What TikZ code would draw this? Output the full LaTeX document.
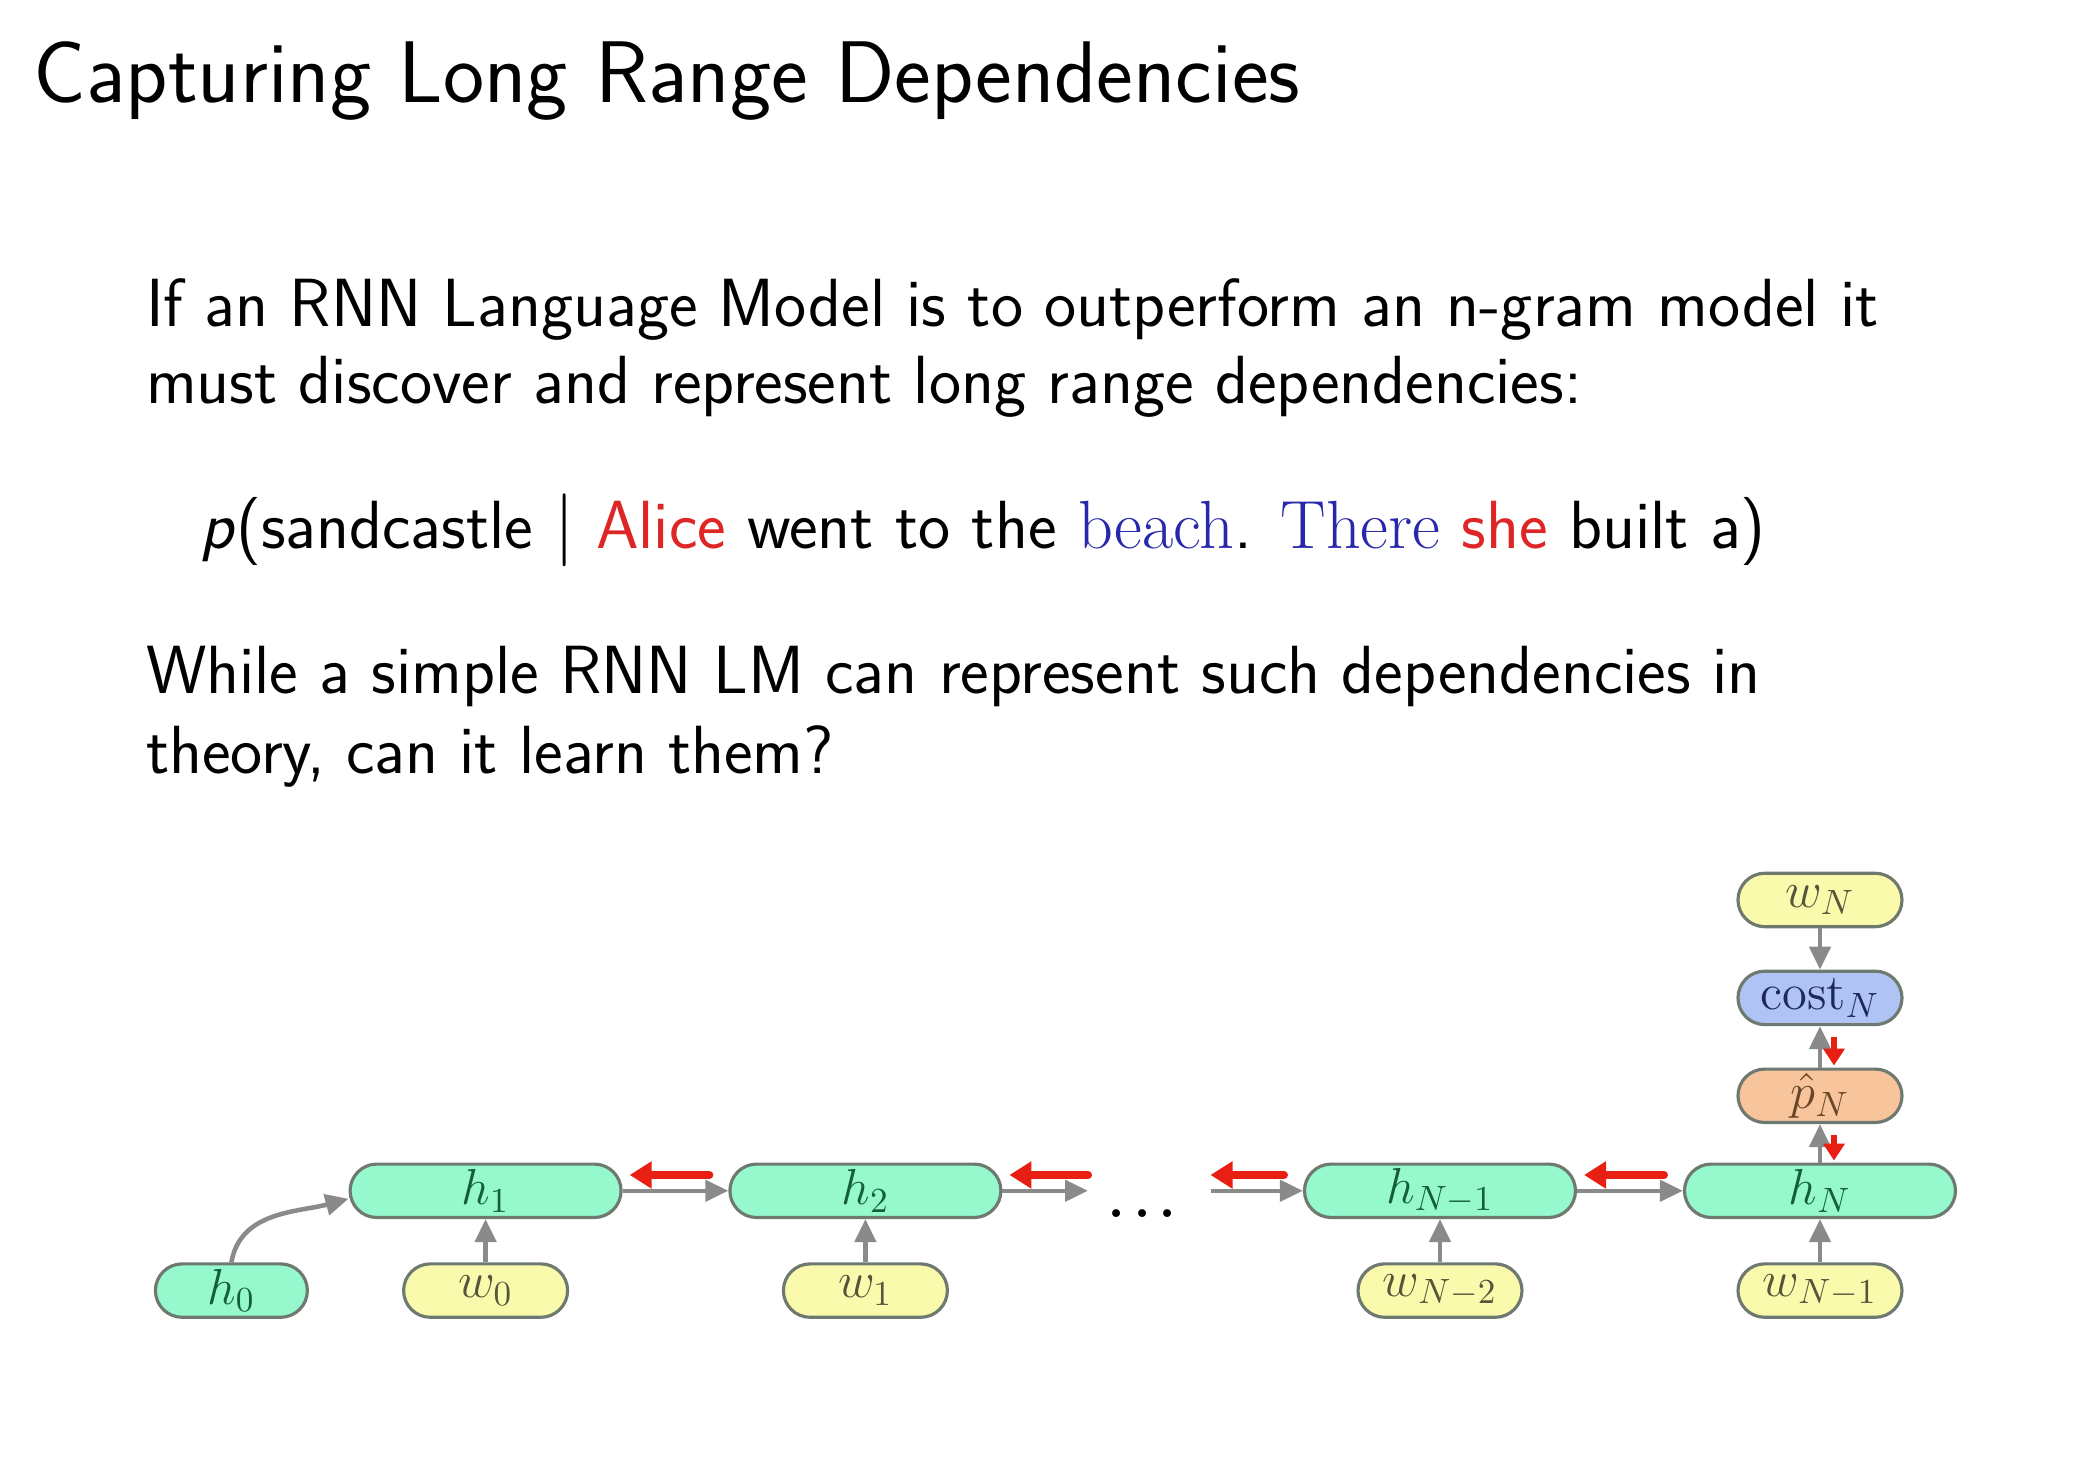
\documentclass[tikz,border=0pt]{standalone}
\usepackage{amsmath,amssymb}
\usepackage{tikz}
\usetikzlibrary{arrows.meta}
\definecolor{hidgreen}{RGB}{150,248,205}
\definecolor{hidtext}{RGB}{20,95,58}
\definecolor{wordyellow}{RGB}{250,250,172}
\definecolor{wordtext}{RGB}{85,85,60}
\definecolor{costblue}{RGB}{175,196,245}
\definecolor{costtext}{RGB}{30,40,90}
\definecolor{porange}{RGB}{248,196,156}
\definecolor{ptext}{RGB}{105,70,40}
\definecolor{cellborder}{RGB}{110,122,112}
\definecolor{arrowgray}{RGB}{138,138,138}
\definecolor{gradred}{RGB}{232,32,20}
\definecolor{alicered}{RGB}{222,38,38}
\definecolor{beachblue}{RGB}{40,40,170}
\tikzset{
  cell/.style={draw=cellborder, line width=0.9pt, rounded corners=0.267cm,
    minimum height=0.534cm, inner sep=0pt, font=\fontsize{14}{16}\selectfont},
  hcell/.style={cell, fill=hidgreen, text=hidtext, minimum width=2.71cm},
  wcell/.style={cell, fill=wordyellow, text=wordtext, minimum width=1.64cm},
  fw/.style={draw=arrowgray, line width=1.3pt, -{Triangle[length=2.3mm,width=2.1mm]}},
  bw/.style={draw=gradred, line width=2.3pt, line cap=round,
    -{Triangle[length=2.2mm,width=2.6mm]}, shorten <=0.19cm, shorten >=0.07cm},
  bwv/.style={draw=gradred, line width=1.6pt,
    -{Triangle[length=1.7mm,width=2.1mm]}, shorten <=0.11cm, shorten >=0.02cm},
  txt/.style={anchor=base west, inner sep=0pt, font=\sffamily\fontsize{19.4}{23}\selectfont}
}
% red gradient arrow, drawn above the forward one
\def\BW#1#2{\draw[bw] ([yshift=0.158cm]#1) -- ([yshift=0.158cm]#2);}
\begin{document}
\begin{tikzpicture}
  \useasboundingbox (0,0) rectangle (20.74,-14.82);
  \fill[white] (0,0) rectangle (20.74,-14.82);
  % slide text
  \node[txt, font=\sffamily\fontsize{24.9}{29}\selectfont] (title) at (0.33,-1.03) {Capturing Long Range Dependencies};
  \node[txt] (para1a) at (1.454,-3.264) {If an RNN Language Model is to outperform an n-gram model it};
  \node[txt] (para1b) at (1.454,-4.035) {must discover and represent long range dependencies:};
  \node[txt] (query) at (2.0,-5.49) {\textit{p}(sandcastle $\mid$ \textcolor{alicered}{Alice} went to the
    \textcolor{beachblue}{\rmfamily beach}. \textcolor{beachblue}{\rmfamily There} \textcolor{alicered}{she} built a)};
  \node[txt] (para2a) at (1.454,-6.94) {While a simple RNN LM can represent such dependencies in};
  \node[txt] (para2b) at (1.454,-7.74) {theory, can it learn them?};
  % the unrolled network
  \node[hcell, minimum width=1.52cm] (h0) at (2.314,-12.906) {$h_0$};
  \node[wcell] (w0) at (4.856,-12.906) {$w_0$};
  \node[wcell] (w1) at (8.654,-12.906) {$w_1$};
  \node[wcell] (wN2) at (14.40,-12.906) {$w_{N-2}$};
  \node[wcell] (wN1) at (18.20,-12.906) {$w_{N-1}$};
  \node[hcell] (h1) at (4.856,-11.908) {$h_1$};
  \node[hcell] (h2) at (8.654,-11.908) {$h_2$};
  \node[hcell] (hN1) at (14.40,-11.908) {$h_{N-1}$};
  \node[hcell] (hN) at (18.20,-11.908) {$h_N$};
  \node[cell, fill=porange, text=ptext, minimum width=1.64cm] (pN) at (18.20,-10.958) {$\hat{p}_N$};
  \node[cell, fill=costblue, text=costtext, minimum width=1.64cm] (costN) at (18.20,-9.979) {$\mathrm{cost}_N$};
  \node[wcell] (wN) at (18.20,-9.000) {$w_N$};
  \node[anchor=base, font=\boldmath\fontsize{15}{16}\selectfont] (dots) at (11.47,-12.175) {$\dots$};
  \coordinate (gapA) at (10.88,-11.908);
  \coordinate (gapB) at (12.105,-11.908);
  % forward
  \draw[fw] (h0.north) to[out=80,in=195] ([yshift=-0.08cm]h1.west);
  \foreach \a/\b in {w0/h1,w1/h2,wN2/hN1,wN1/hN,hN/pN,pN/costN,wN/costN}
    \draw[fw] (\a) -- (\b);
  \draw[fw] (h1) -- (h2);
  \draw[fw] (h2) -- (gapA);
  \draw[fw] (gapB) -- (hN1);
  \draw[fw] (hN1) -- (hN);
  % backward
  \BW{h2.west}{h1.east}
  \draw[bw, shorten <=0pt] ([yshift=0.158cm]gapA) -- ([yshift=0.158cm]h2.east);
  \draw[bw, shorten >=0pt] ([yshift=0.158cm]hN1.west) -- ([yshift=0.158cm]gapB);
  \BW{hN.west}{hN1.east}
  \draw[bwv] ([xshift=0.14cm]costN.south) -- ([xshift=0.14cm]pN.north);
  \draw[bwv] ([xshift=0.14cm]pN.south) -- ([xshift=0.14cm]hN.north);
\end{tikzpicture}
\end{document}
